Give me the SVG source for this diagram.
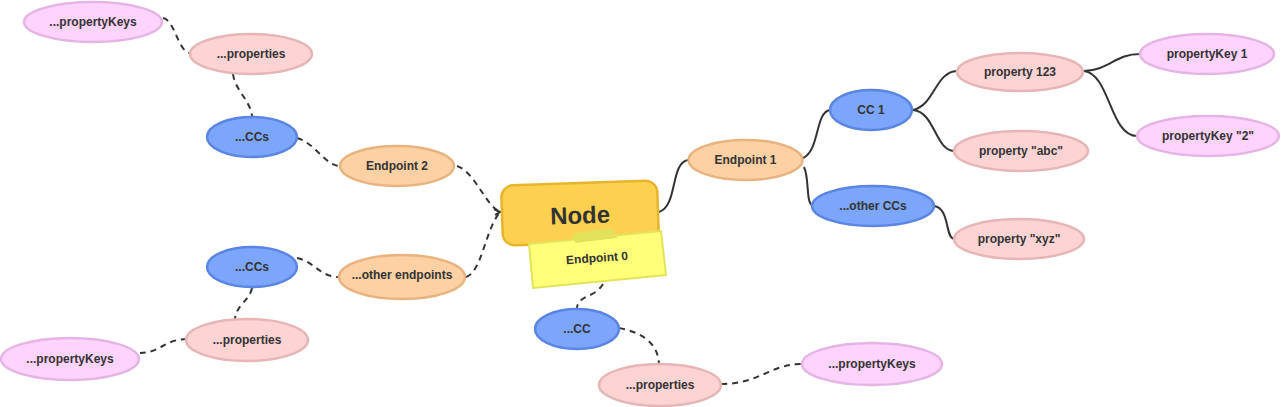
<svg xmlns="http://www.w3.org/2000/svg" width="1281" height="407" viewBox="0 0 1281 407">
<style>
text{font-family:"Liberation Sans",Arial,sans-serif;font-weight:bold;font-size:12px;fill:#333;text-anchor:middle;dominant-baseline:central}
.c{fill:none;stroke:#333;stroke-width:2}
.d{stroke-dasharray:6 5}
.ep ellipse{fill:#fdd1a3;stroke:#e8b37f;stroke-width:2.5}
.cc ellipse{fill:#7ba6fb;stroke:#5a85e4;stroke-width:2.5}
.pr ellipse{fill:#fed3d3;stroke:#e6b5b5;stroke-width:2.5}
.pk ellipse{fill:#fed3fd;stroke:#e4b5e4;stroke-width:2.5}
</style>
<rect width="1281" height="407" fill="#fff"/>
<g id="connectors">
<path class="c" d="M659,212 C678,206 670,163 688,160"/>
<path class="c" d="M803,158 C820,150 815,112 830,110"/>
<path class="c" d="M804,167 C810,180 805,205 814,206"/>
<path class="c" d="M913,110 C935,105 935,72 957,71"/>
<path class="c" d="M913,110 C935,112 935,150 954,151"/>
<path class="c" d="M934,206 C950,208 945,238 954,239"/>
<path class="c" d="M1084,71 C1110,70 1115,54 1140,54"/>
<path class="c" d="M1084,71 C1110,74 1110,136 1137,136"/>
<path class="c d" d="M457,166 C475,172 485,205 500,212"/>
<path class="c d" d="M466,277 C482,272 485,230 500,212"/>
<path class="c" d="M494,209 L500,212 L495,215"/>
<path class="c d" d="M297,138 C315,143 325,165 339,166"/>
<path class="c d" d="M233,74 C235,90 250,100 252,116"/>
<path class="c d" d="M163,18 C175,20 178,52 190,53"/>
<path class="c d" d="M297,258 C315,262 320,277 339,277"/>
<path class="c d" d="M252,288 C250,300 236,305 235,319"/>
<path class="c d" d="M187,339 C165,339 160,353 140,353"/>
<path class="c d" d="M603,284 C595,298 578,295 577,308"/>
<path class="c d" d="M619,328 C645,333 658,345 659,364"/>
<path class="c d" d="M721,384 C760,384 770,364 802,364"/>
</g>
<g id="node">
<g transform="rotate(-2 580 213)">
<rect x="502" y="183" width="156" height="60" rx="12" fill="#fdd14f" stroke="#e7b52c" stroke-width="2.5"/>
<text x="580" y="215" style="font-size:24px">Node</text>
</g>
</g>
<g id="endpoint0">
<polygon points="529,244 661,231 666,275 533,288" fill="#ffff7a" stroke="#e3e35a" stroke-width="2"/>
<polygon points="573,233 613,228 617,238 575,243" fill="#e2e25a"/>
<text x="597" y="258" transform="rotate(-4 597 258)">Endpoint 0</text>
</g>
<g id="endpoint1" class="ep"><ellipse cx="745.5" cy="160" rx="57" ry="20"/><text x="745.5" y="160">Endpoint 1</text></g>
<g id="cc1" class="cc"><ellipse cx="871" cy="110" rx="41" ry="20"/><text x="871" y="110">CC 1</text></g>
<g id="otherccs" class="cc"><ellipse cx="873" cy="206" rx="61" ry="20"/><text x="873" y="206">...other CCs</text></g>
<g id="prop123" class="pr"><ellipse cx="1020" cy="72" rx="63" ry="19"/><text x="1020" y="72">property 123</text></g>
<g id="propabc" class="pr"><ellipse cx="1021" cy="151" rx="67" ry="20"/><text x="1021" y="151">property "abc"</text></g>
<g id="propxyz" class="pr"><ellipse cx="1019" cy="239" rx="65" ry="20"/><text x="1019" y="239">property "xyz"</text></g>
<g id="pk1" class="pk"><ellipse cx="1207" cy="54" rx="67" ry="20"/><text x="1207" y="54">propertyKey 1</text></g>
<g id="pk2" class="pk"><ellipse cx="1208" cy="136" rx="71" ry="20"/><text x="1208" y="136">propertyKey "2"</text></g>
<g id="pkTopLeft" class="pk"><ellipse cx="93" cy="22" rx="69" ry="20"/><text x="93" y="22">...propertyKeys</text></g>
<g id="propTopLeft" class="pr"><ellipse cx="251" cy="54" rx="61" ry="20"/><text x="251" y="54">...properties</text></g>
<g id="ccsTop" class="cc"><ellipse cx="252" cy="137" rx="45" ry="20"/><text x="252" y="137">...CCs</text></g>
<g id="endpoint2" class="ep"><ellipse cx="397" cy="166" rx="57" ry="20"/><text x="397" y="166">Endpoint 2</text></g>
<g id="ccsBottom" class="cc"><ellipse cx="252" cy="267" rx="45" ry="20"/><text x="252" y="267">...CCs</text></g>
<g id="otherEndpoints" class="ep"><ellipse cx="402" cy="277" rx="63" ry="22"/><text x="402" y="275">...other endpoints</text></g>
<g id="propBottomLeft" class="pr"><ellipse cx="247" cy="340" rx="61" ry="21"/><text x="247" y="340">...properties</text></g>
<g id="pkBottomLeft" class="pk"><ellipse cx="70" cy="359" rx="69" ry="21"/><text x="70" y="359">...propertyKeys</text></g>
<g id="cc0" class="cc"><ellipse cx="577" cy="329" rx="42" ry="20"/><text x="577" y="329">...CC</text></g>
<g id="propBottom" class="pr"><ellipse cx="660" cy="385" rx="61" ry="21"/><text x="660" y="385">...properties</text></g>
<g id="pkBottom" class="pk"><ellipse cx="872" cy="364" rx="70" ry="21"/><text x="872" y="364">...propertyKeys</text></g>
</svg>
